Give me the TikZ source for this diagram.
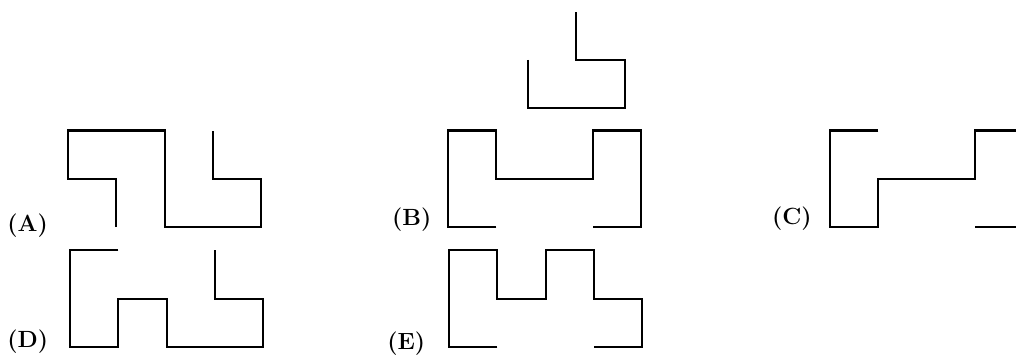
\documentclass[tikz,border=0pt]{standalone}
\usepackage{tikz}
\newcommand{\drawthick}{\draw[line width=1.2pt]}
\newcommand{\optlabel}[4]{\node[anchor=base west,inner sep=0pt,font=\fontsize{13.8}{16}\selectfont\bfseries] (#1) at (#3,#4) {(#2)};}
\begin{document}
\begin{tikzpicture}
\clip (0,0) rectangle (21.02,7.41);
\drawthick (2.407,2.71)--++(0,1)--++(-1,0)--++(0,1)--++(2,0)--++(0,-2)--++(2,0)--++(0,1)--++(-1,0)--++(0,1);
    \drawthick (10.27,2.71)--++(-1,0)--++(0,2)--++(1,0)--++(0,-1)--++(2,0)--++(0,1)--++(1,0)--++(0,-2)--++(-1,0);
    \drawthick (10.925,6.17)--++(0,-1)--++(2,0)--++(0,1)--++(-1,0)--++(0,1);
    \drawthick (18.17,4.71)--++(-1,0)--++(0,-2)--++(1,0)--++(0,1)--++(2,0)--++(0,1)--++(1,0)--++(0,-2)--++(-1,0);
    \drawthick (2.448,2.228)--++(-1,0)--++(0,-2)--++(1,0)--++(0,1)--++(1,0)--++(0,-1)--++(2,0)--++(0,1)--++(-1,0)--++(0,1);
    \drawthick (10.29,0.228)--++(-1,0)--++(0,2)--++(1,0)--++(0,-1)--++(1,0)--++(0,1)--++(1,0)--++(0,-1)--++(1,0)--++(0,-1)--++(-1,0);
\optlabel{labA}{A}{0.145}{2.628}\optlabel{labB}{B}{8.105}{2.752}\optlabel{labC}{C}{15.967}{2.773}\optlabel{labD}{D}{0.145}{0.228}\optlabel{labE}{E}{8.007}{0.186}\end{tikzpicture}
\end{document}
